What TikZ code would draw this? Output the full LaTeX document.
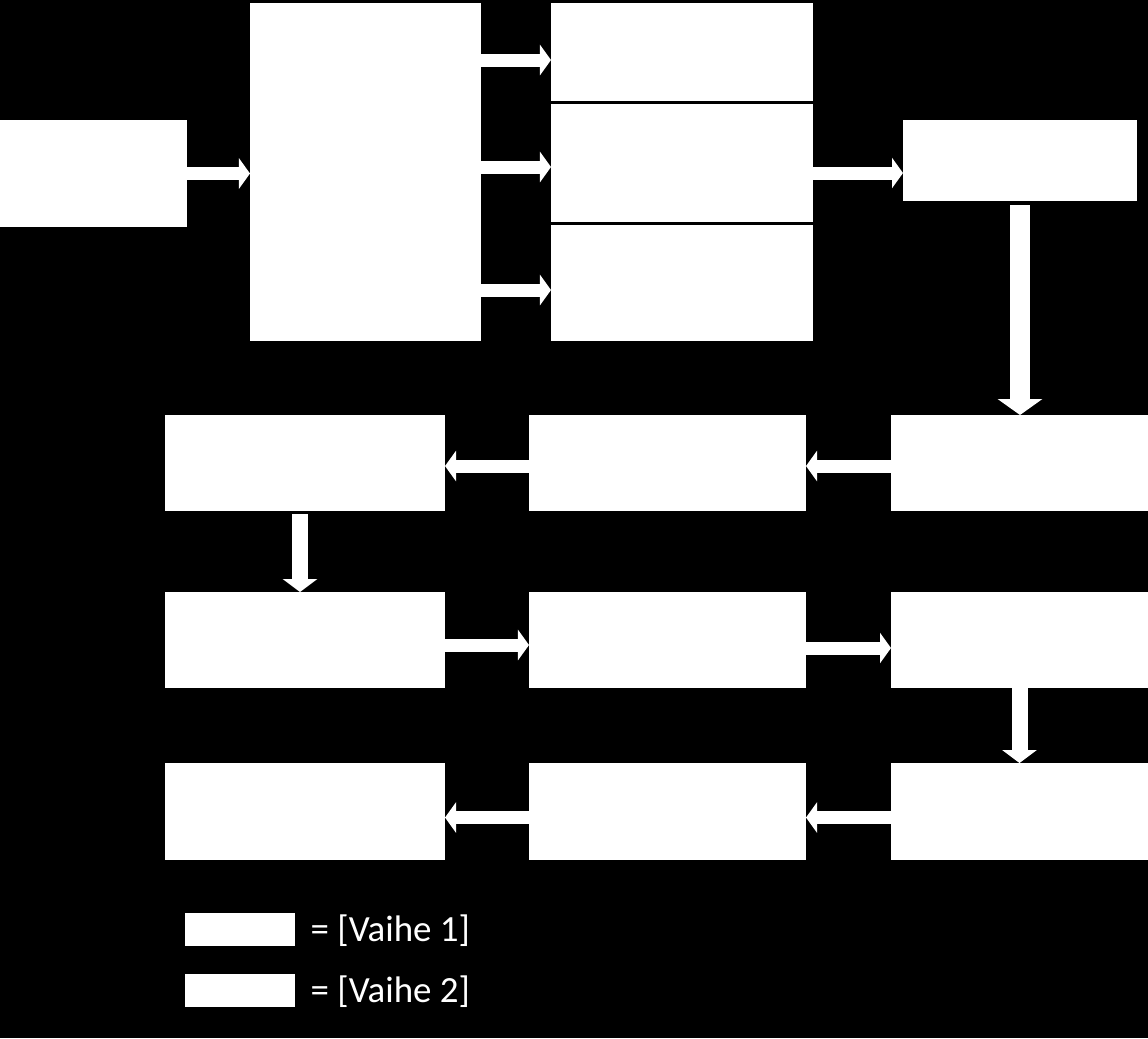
\documentclass[tikz,border=0pt]{standalone}
\usepackage{fontspec}
\setmainfont{Carlito}
\usetikzlibrary{arrows.meta}
\tikzset{
  wbox/.style={draw=none, fill=white, inner sep=0pt, outer sep=0pt, rectangle},
  harr/.style={white, line width=0.13cm, -{Triangle[width=0.30cm, length=0.11cm]}},
  varr/.style={white, line width=0.20cm, -{Triangle[width=0.44cm, length=0.16cm]}},
  varrs/.style={white, line width=0.16cm, -{Triangle[width=0.34cm, length=0.13cm]}},
  lgtext/.style={text=white, anchor=west, inner sep=0pt, font=\fontsize{10.5}{12}\selectfont}
}
\newcommand\bx[5]{\node[wbox, minimum width={(#4-#2)*0.01cm}, minimum height={(#5-#3)*0.01cm}] (#1) at ({(#2+#4)/2},{(#3+#5)/2}) {};}
\begin{document}
\begin{tikzpicture}[x=0.01cm, y=-0.01cm]
\fill[black] (0,0) rectangle (1148,1038);
\useasboundingbox (0,0) rectangle (1148,1038);
% top part
\bx{A}{0}{120}{187}{227}
\bx{B}{250}{3}{481}{341}
\bx{C1}{551}{3}{813}{101}
\bx{C2}{551}{104}{813}{222}
\bx{C3}{551}{225}{813}{341}
\bx{D}{903}{120}{1137}{201}
% rows
\bx{F}{165}{415}{445}{511}
\bx{G}{529}{415}{806}{511}
\bx{E}{891}{415}{1148}{511}
\bx{H}{165}{592}{445}{688}
\bx{I}{529}{592}{806}{688}
\bx{J}{891}{592}{1148}{688}
\bx{K}{165}{763}{445}{860}
\bx{L}{529}{763}{806}{860}
\bx{M}{891}{763}{1148}{860}
% legend
\bx{L1}{185}{913}{295}{946}
\bx{L2}{185}{974}{295}{1007}
\node[lgtext] (T1) at (310,931) {= [Vaihe 1]};
\node[lgtext] (T2) at (310,992) {= [Vaihe 2]};
% connectors
\draw[harr] ([yshift=0cm]A.east) -- (B.west |- A.east);
\draw[harr] ([yshift=-0.08cm]B.east |- C1.west) -- ([yshift=-0.08cm]C1.west);
\draw[harr] ([yshift=-0.04cm]B.east |- C2.west) -- ([yshift=-0.04cm]C2.west);
\draw[harr] ([yshift=-0.07cm]B.east |- C3.west) -- ([yshift=-0.07cm]C3.west);
\draw[harr] ([yshift=-0.10cm]C2.east) -- ([yshift=-0.10cm]D.west |- C2.east);
\draw[varr] ([yshift=-0.04cm]D.south) -- (E.north -| D.south);
\draw[harr] ([yshift=-0.03cm]E.west) -- ([yshift=-0.03cm]G.east);
\draw[harr] ([yshift=-0.03cm]G.west) -- ([yshift=-0.03cm]F.east);
\draw[varrs] ([xshift=-0.05cm,yshift=-0.03cm]F.south) -- ([xshift=-0.05cm]H.north);
\draw[harr] ([yshift=-0.05cm]H.east) -- ([yshift=-0.05cm]I.west);
\draw[harr] ([yshift=-0.08cm]I.east) -- ([yshift=-0.08cm]J.west);
\draw[varrs] (J.south) -- (M.north);
\draw[harr] ([yshift=-0.06cm]M.west) -- ([yshift=-0.06cm]L.east);
\draw[harr] ([yshift=-0.06cm]L.west) -- ([yshift=-0.06cm]K.east);
\end{tikzpicture}
\end{document}
